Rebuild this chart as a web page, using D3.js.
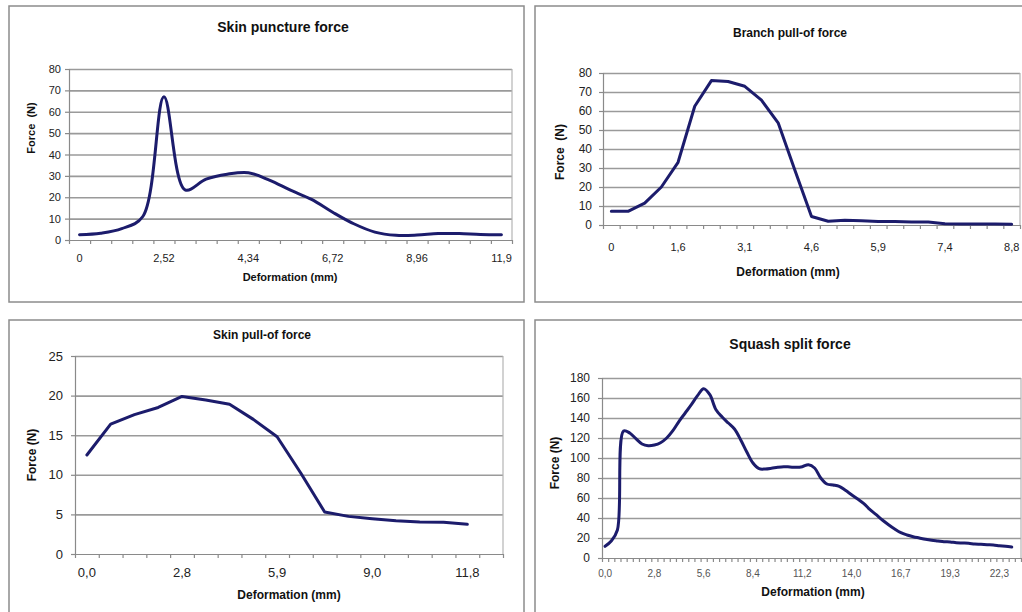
<!DOCTYPE html>
<html>
<head>
<meta charset="utf-8">
<script src="https://cdn.jsdelivr.net/npm/d3@7"></script>
<style>
  body { margin: 0; background: #fff; }
  svg { display: block; font-family: "Liberation Sans", Arial, sans-serif; }
</style>
</head>
<body>
<div id="chart"></div>
<script>
// Values (category axis, one value per category)

const punctureForce = [2.5, 3.2, 5.3, 11, 67, 23.5, 28.5, 30.8, 31.5, 28, 23.3, 19, 13, 7.6, 3.7, 2.2, 2.3, 3, 3, 2.6, 2.5]
const punctureLabels = ['0', '2,52', '4,34', '6,72', '8,96', '11,9']

const branchForce = [7.2, 7.2, 11.5, 20, 33, 62.5, 76, 75.5, 73, 65.7, 53.8, 29, 4.5, 2, 2.5, 2.2, 1.9, 1.9, 1.6, 1.6, 0.7, 0.5, 0.5, 0.5, 0.4]
const branchLabels = ['0', '1,6', '3,1', '4,6', '5,9', '7,4', '8,8']

const skinPullForce = [12.5, 16.4, 17.6, 18.5, 19.9, 19.45, 18.9, 17, 14.8, 10.2, 5.3, 4.75, 4.45, 4.2, 4.05, 4.0, 3.75]
const skinPullLabels = ['0,0', '2,8', '5,9', '9,0', '11,8']

const squashForce = [11.7, 17, 28, 127, 125, 119.3, 114, 112.3, 113, 115.3, 120, 127.3, 136.7, 145, 153.3, 162.3, 169.3, 163.3, 148.3, 141,
  135, 129, 118.3, 106, 95, 89.3, 89, 89.7, 90.7, 91.3, 91, 90.7, 91.3, 93.3, 90, 80, 74, 73, 71.7, 67.7,
  63.3, 59, 54.3, 48.3, 43.3, 38, 33.3, 29, 25.3, 23, 21.3, 20, 18.7, 17.7, 17, 16.3, 16, 15.3, 15, 14.7,
  14, 13.7, 13.3, 13, 12.3, 11.7, 11]
const squashLabels = ['0,0', '2,8', '5,6', '8,4', '11,2', '14,0', '16,7', '19,3', '22,3']

const svg = d3.select('#chart')
  .append('svg')
  .attr('width', 1022)
  .attr('height', 612)

// panel frames (two right panels and the bottom row run off the picture)
const frames = [[9, 6, 515, 296], [535, 6, 510, 296], [9, 320, 515, 310], [535, 320, 510, 310]]
svg.selectAll('rect.frame')
  .data(frames)
  .enter()
  .append('rect')
  .attr('class', 'frame')
  .attr('x', d => d[0]).attr('y', d => d[1])
  .attr('width', d => d[2]).attr('height', d => d[3])
  .attr('fill', '#fff')
  .attr('stroke', '#8c8c8c')
  .attr('stroke-width', 1.5)

function drawChart(o) {
  const g = svg.append('g')

  const x = d3.scaleBand().domain(d3.range(o.nCats)).range([o.left, o.right])
  const xEdge = d3.scaleLinear().domain([0, o.nCats]).range([o.left, o.right])
  const y = d3.scaleLinear().domain([0, o.yMax]).range([o.bottom, o.top])
  const yTicks = d3.range(0, o.yMax + 0.001, o.yStep)

  // horizontal gridlines
  g.append('g')
    .attr('transform', `translate(${o.left},0)`)
    .call(d3.axisLeft(y).tickValues(yTicks.slice(1)).tickSize(-(o.right - o.left)).tickFormat(''))
    .call(a => a.select('.domain').remove())
    .selectAll('line').attr('stroke', '#9a9a9a').attr('stroke-width', 1.6)

  // right border of plot area
  g.append('line')
    .attr('x1', o.right).attr('x2', o.right)
    .attr('y1', o.top).attr('y2', o.bottom)
    .attr('stroke', '#b4b4b4').attr('stroke-width', 1.2)

  // y axis
  const yAx = g.append('g')
    .attr('transform', `translate(${o.left},0)`)
    .call(d3.axisLeft(y).tickValues(yTicks).tickSize(4).tickPadding(o.yPad))
  yAx.selectAll('line, path').attr('stroke', '#8a8a8a').attr('stroke-width', 1.2)
  yAx.selectAll('text').attr('font-size', o.yFont).attr('fill', '#222').attr('font-family', 'Liberation Sans, Arial, sans-serif')

  // x axis: tick marks between categories
  const xAx = g.append('g')
    .attr('transform', `translate(0,${o.bottom})`)
    .call(d3.axisBottom(xEdge).tickValues(d3.range(o.nCats + 1)).tickSize(4).tickSizeOuter(0).tickFormat(''))
  xAx.selectAll('line, path').attr('stroke', '#8a8a8a').attr('stroke-width', 1.2)

  // x labels on every n-th category
  const xLab = g.append('g')
    .attr('transform', `translate(0,${o.bottom})`)
    .call(d3.axisBottom(x)
      .tickValues(o.labels.map((l, i) => i * o.labelStep))
      .tickSize(0).tickPadding(o.xPad)
      .tickFormat((d, i) => o.labels[i]))
    .call(a => a.select('.domain').remove())
  xLab.selectAll('text').attr('font-size', o.xFont).attr('fill', o.xColor || '#222').attr('font-family', 'Liberation Sans, Arial, sans-serif')

  // data line
  const line = d3.line()
    .x((d, i) => x(i) + x.bandwidth() / 2)
    .y(d => y(d))
    .curve(o.smooth ? d3.curveCatmullRom : d3.curveLinear)

  g.append('path')
    .datum(o.values)
    .attr('d', line)
    .attr('fill', 'none')
    .attr('stroke', '#1c1c6c')
    .attr('stroke-width', 3)
    .attr('stroke-linejoin', 'round')
    .attr('stroke-linecap', 'round')

  // titles
  g.append('text')
    .attr('x', o.titleX).attr('y', o.titleY)
    .attr('text-anchor', 'middle')
    .attr('font-weight', 'bold')
    .attr('font-size', o.titleFont)
    .attr('fill', '#111')
    .text(o.title)

  g.append('text')
    .attr('x', o.xTitleX).attr('y', o.xTitleY)
    .attr('text-anchor', 'middle')
    .attr('font-weight', 'bold')
    .attr('font-size', o.axisFont)
    .attr('fill', '#111')
    .text('Deformation (mm)')

  g.append('text')
    .attr('transform', `translate(${o.yTitleX},${o.yTitleY}) rotate(-90)`)
    .attr('dy', '0.35em')
    .attr('text-anchor', 'middle')
    .attr('font-weight', 'bold')
    .attr('font-size', o.axisFont)
    .attr('fill', '#111')
    .attr('xml:space', 'preserve')
    .style('white-space', 'pre')
    .text(o.yTitle)
}

drawChart({
  values: punctureForce, labels: punctureLabels, nCats: 21, labelStep: 4, smooth: true,
  yMax: 80, yStep: 10,
  left: 69, right: 512, top: 69, bottom: 240,
  yPad: 4, xPad: 14, yFont: 11, xFont: 11,
  title: 'Skin puncture force', titleX: 283, titleY: 32, titleFont: 14,
  xTitleX: 290, xTitleY: 281, axisFont: 11,
  yTitle: 'Force  (N)', yTitleX: 31, yTitleY: 128
})

drawChart({
  values: branchForce, labels: branchLabels, nCats: 25, labelStep: 4, smooth: false,
  yMax: 80, yStep: 10,
  left: 603, right: 1020, top: 73, bottom: 225,
  yPad: 7, xPad: 18, yFont: 12, xFont: 11,
  title: 'Branch pull-of force', titleX: 790, titleY: 37, titleFont: 12,
  xTitleX: 788, xTitleY: 276, axisFont: 12,
  yTitle: 'Force  (N)', yTitleX: 560, yTitleY: 152
})

drawChart({
  values: skinPullForce, labels: skinPullLabels, nCats: 18, labelStep: 4, smooth: false,
  yMax: 25, yStep: 5,
  left: 75, right: 503, top: 356, bottom: 554,
  yPad: 8, xPad: 14, yFont: 13, xFont: 13,
  title: 'Skin pull-of force', titleX: 262, titleY: 339, titleFont: 12,
  xTitleX: 289, xTitleY: 599, axisFont: 12,
  yTitle: 'Force (N)', yTitleX: 32, yTitleY: 455
})

drawChart({
  values: squashForce, labels: squashLabels, nCats: 68, labelStep: 8, smooth: true,
  yMax: 180, yStep: 20,
  left: 602, right: 1021, top: 378, bottom: 558,
  yPad: 8, xPad: 12, yFont: 12, xFont: 10, xColor: '#555',
  title: 'Squash split force', titleX: 790, titleY: 349, titleFont: 14,
  xTitleX: 813, xTitleY: 596, axisFont: 12,
  yTitle: 'Force (N)', yTitleX: 555, yTitleY: 463
})
</script>
</body>
</html>
